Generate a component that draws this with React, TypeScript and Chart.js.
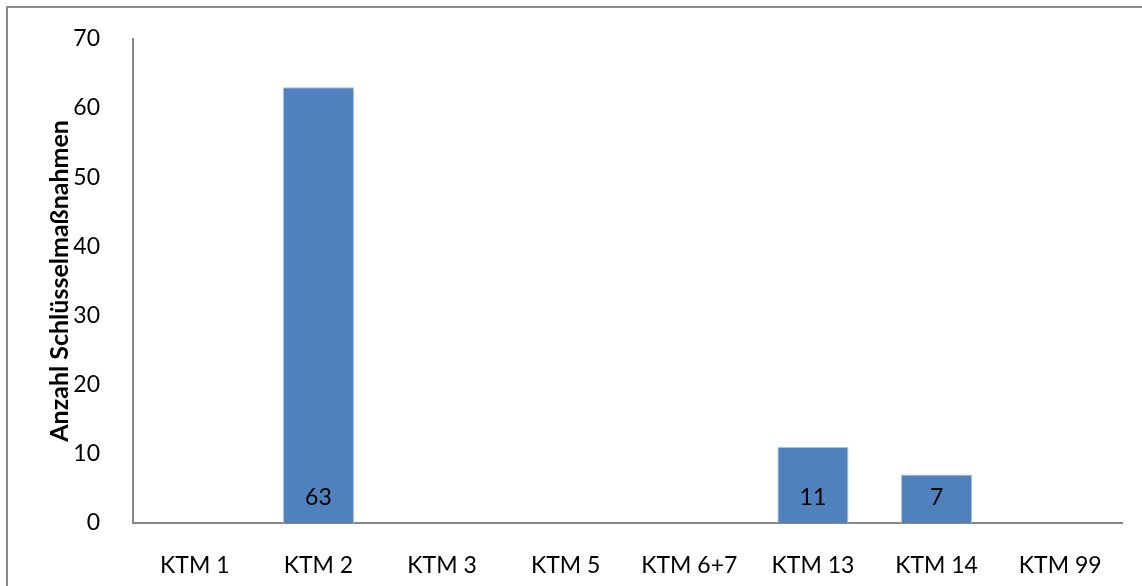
import React, { useEffect, useRef } from "react";
import { Chart, registerables } from "chart.js";

Chart.register(...registerables);

const categories = ["KTM 1", "KTM 2", "KTM 3", "KTM 5", "KTM 6+7", "KTM 13", "KTM 14", "KTM 99"];
const values: (number | null)[] = [null, 63, null, null, null, 11, 7, null];
const yTicks = [0, 10, 20, 30, 40, 50, 60, 70];
const yTitle = "Anzahl Schlüsselmaßnahmen";

const FONT = "Lato, 'Open Sans', sans-serif";

const labelPlugin = {
  id: "baseLabels",
  afterDatasetsDraw(chart: any) {
    const { ctx } = chart;
    const meta = chart.getDatasetMeta(0);
    ctx.save();
    ctx.font = `23px ${FONT}`;
    ctx.fillStyle = "#000";
    ctx.textAlign = "center";
    ctx.textBaseline = "middle";
    meta.data.forEach((bar: any, i: number) => {
      const v = values[i];
      if (v == null) return;
      ctx.fillText(String(v), bar.x, bar.base - 25);
    });
    ctx.restore();
  },
};

export default function App() {
  const ref = useRef<HTMLCanvasElement>(null);
  useEffect(() => {
    document.body.style.margin = "0";
    const chart = new Chart(ref.current!, {
      type: "bar",
      data: {
        labels: categories,
        datasets: [
          {
            data: values,
            backgroundColor: "#4f81bd",
            borderColor: "#a9c0de",
            borderWidth: 1,
            categoryPercentage: 1,
            barPercentage: 0.575,
          },
        ],
      },
      options: {
        animation: false,
        responsive: false,
        maintainAspectRatio: false,
        layout: { padding: { top: 37, right: 20, left: 0, bottom: 0 } },
        plugins: { legend: { display: false }, tooltip: { enabled: false } },
        scales: {
          x: {
            grid: { display: false },
            border: { display: true, color: "#888888", width: 2 },
            ticks: { color: "#000", font: { family: FONT, size: 23 }, padding: 21, maxRotation: 0 },
            afterFit(scale: any) {
              scale.height = 63;
            },
          },
          y: {
            min: 0,
            max: 70,
            afterBuildTicks(scale: any) {
              scale.ticks = yTicks.map((v) => ({ value: v }));
            },
            grid: { display: false },
            border: { display: true, color: "#888888", width: 2 },
            ticks: { color: "#000", font: { family: FONT, size: 23 }, padding: 25 },
            title: {
              display: true,
              text: yTitle,
              color: "#000",
              font: { family: FONT, size: 25, weight: "bold" },
              padding: { top: 45, bottom: 0 },
            },
            afterFit(scale: any) {
              scale.width = 133;
            },
          },
        },
      },
      plugins: [labelPlugin],
    });
    return () => chart.destroy();
  }, []);
  return (
    <div style={{ position: "relative", width: 1142, height: 586, overflow: "hidden", background: "#fff" }}>
      <div
        style={{
          position: "absolute",
          left: 6,
          top: 6,
          width: 1200,
          height: 700,
          border: "2px solid #8a8a8a",
          boxSizing: "border-box",
        }}
      />
      <canvas ref={ref} width={1142} height={586} style={{ position: "absolute", left: 0, top: 0 }} />
    </div>
  );
}
